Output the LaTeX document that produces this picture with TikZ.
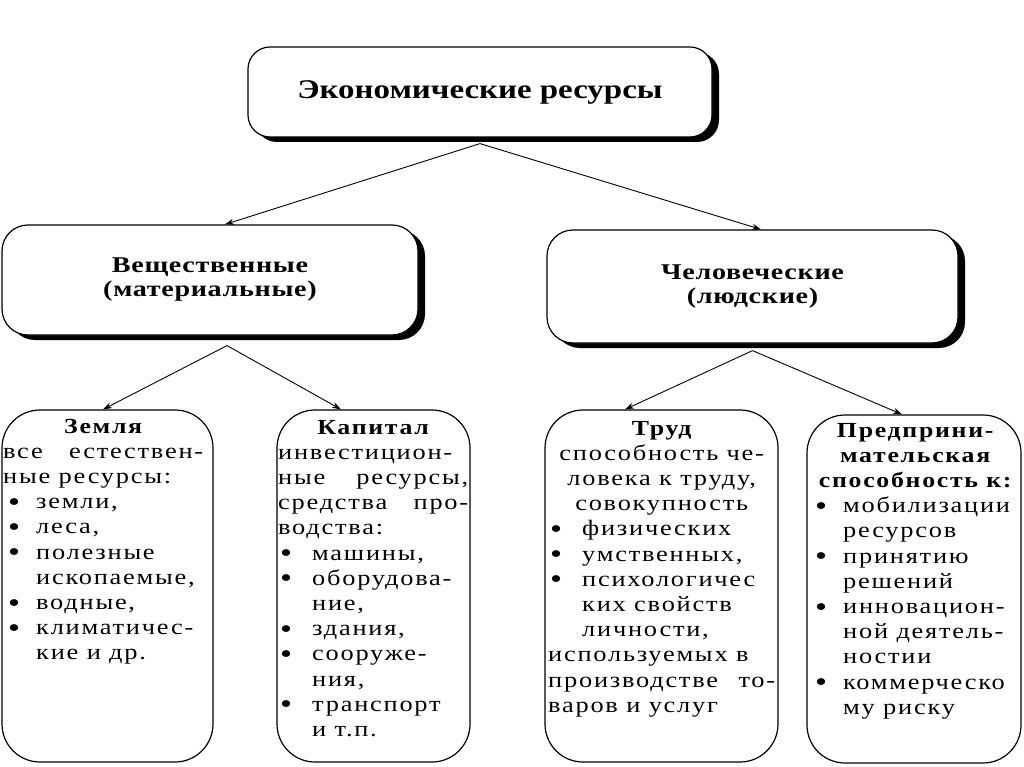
\documentclass[tikz,border=0pt]{standalone}
\usepackage{fontspec}
\setmainfont{Liberation Serif}
\newfontfamily\titf{Liberation Serif}[FakeStretch=1.22]
\newfontfamily\midf{Liberation Serif}[FakeStretch=1.25,LetterSpace=3]
\newfontfamily\bodyf{Liberation Serif}[FakeStretch=1.2,LetterSpace=8]
\usetikzlibrary{arrows.meta,shadows}
\newlength\bo \newlength\bt
\newcommand\bul[1]{\hspace*{\bo}\makebox[\dimexpr\bt-\bo\relax][l]{\raisebox{-2.6pt}{\scalebox{1.3}{\textbullet}}}#1}
\newcommand\cont[1]{\hspace*{\bt}#1}
\newcommand\jus[1]{\makebox[\linewidth][s]{#1}}
\newcommand\ctr[1]{\makebox[\linewidth][c]{#1}}
\newcommand\hd{\bfseries\fontsize{21.5}{25.2}\selectfont}
\newcommand\bd{\bodyf\fontsize{22}{25.2}\selectfont}
\tikzset{
  rbox/.style={draw, line width=1.2pt, fill=white, inner sep=0pt},
  shad/.style={drop shadow={shadow xshift=7pt, shadow yshift=-5pt, fill=black, opacity=1}},
  topbox/.style={rbox, shad, rounded corners=22pt, align=center,
    font=\titf\bfseries\fontsize{27}{30}\selectfont},
  midbox/.style={rbox, shad, rounded corners=26pt, align=center,
    font=\midf\bfseries\fontsize{22.5}{24}\selectfont},
  lowbox/.style={rbox, rounded corners=38pt},
  txt/.style={anchor=base west, inner sep=0pt},
  arr/.style={-{Stealth[length=9pt,width=6pt]}, line width=0.9pt}
}
\begin{document}
\begin{tikzpicture}[x=1pt,y=-1pt]
\useasboundingbox[fill=white] (0,0) rectangle (1024,767);

\node[topbox, minimum width=464pt, minimum height=90pt] (top) at (480,92) {Экономические ресурсы};
\node[midbox, minimum width=416pt, minimum height=110pt] (mat) at (210,280) {Вещественные\\(материальные)};
\node[midbox, minimum width=411pt, minimum height=113pt] (hum) at (752.5,286.5) {Человеческие\\(людские)};

\node[lowbox, minimum width=211pt, minimum height=352pt] (zem) at (107.5,586) {};
\node[lowbox, minimum width=193pt, minimum height=352pt] (kap) at (373.5,586) {};
\node[lowbox, minimum width=233pt, minimum height=352pt] (trud) at (661.5,586) {};
\node[lowbox, minimum width=214pt, minimum height=348pt] (pred) at (914,589) {};

\node[txt] (zemt) at (3,433) {\parbox[t]{200pt}{\bd\setlength\bo{5pt}\setlength\bt{33pt}%
\ctr{\hd Земля}\\
\jus{все естествен-}\\
ные ресурсы:\\
\bul{земли,}\\
\bul{леса,}\\
\bul{полезные}\\
\cont{ископаемые,}\\
\bul{водные,}\\
\bul{климатичес-}\\
\cont{кие и др.}}};

\node[txt] (kapt) at (278,434) {\parbox[t]{190pt}{\bd\setlength\bo{2pt}\setlength\bt{34pt}%
\ctr{\hd Капитал}\\
инвестицион-\\
\jus{ные ресурсы,}\\
\jus{средства про-}\\
водства:\\
\bul{машины,}\\
\bul{оборудова-}\\
\cont{ние,}\\
\bul{здания,}\\
\bul{сооруже-}\\
\cont{ния,}\\
\bul{транспорт}\\
\cont{и т.п.}}};

\node[txt] (trudt) at (548,435) {\parbox[t]{227pt}{\bd\setlength\bo{2pt}\setlength\bt{34pt}%
\ctr{\hd Труд}\\
\ctr{способность че-}\\
\ctr{ловека к труду,}\\
\ctr{совокупность}\\
\bul{физических}\\
\bul{умственных,}\\
\bul{психологичес}\\
\cont{ких свойств}\\
\cont{личности,}\\
используемых в\\
\jus{производстве то-}\\
варов и услуг}};

\node[txt] (predt) at (810,437) {\parbox[t]{210pt}{\bd\setlength\bo{5pt}\setlength\bt{33pt}%
\ctr{\hd Предприни-}\\
\ctr{\hd мательская}\\
\ctr{\hd способность к:}\\
\bul{мобилизации}\\
\cont{ресурсов}\\
\bul{принятию}\\
\cont{решений}\\
\bul{инновацион-}\\
\cont{ной деятель-}\\
\cont{ностии}\\
\bul{коммерческо}\\
\cont{му риску}}};

\draw[arr] ([yshift=-6pt]top.south) -- ([xshift=15pt]mat.north);
\draw[arr] ([yshift=-6pt]top.south) -- ([xshift=8.5pt]hum.north);
\draw[arr] ([xshift=17pt,yshift=-10pt]mat.south) -- ([xshift=-4.5pt]zem.north);
\draw[arr] ([xshift=17pt,yshift=-10pt]mat.south) -- ([xshift=-32.5pt]kap.north);
\draw[arr] ([yshift=-7pt]hum.south) -- ([xshift=-36.5pt]trud.north);
\draw[arr] ([yshift=-7pt]hum.south) -- ([xshift=-12pt]pred.north);
\end{tikzpicture}
\end{document}
